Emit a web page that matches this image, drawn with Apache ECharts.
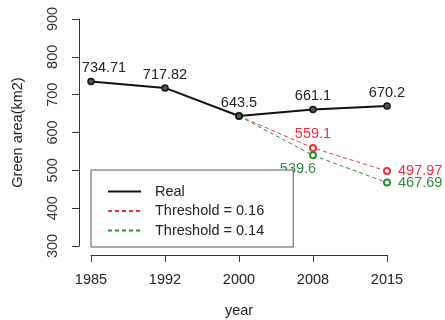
<!DOCTYPE html>
<html>
<head>
<meta charset="utf-8">
<script src="https://cdn.jsdelivr.net/npm/echarts@6/dist/echarts.min.js"></script>
<style>html,body{margin:0;padding:0;background:#fff}#c{width:445px;height:320px}</style>
</head>
<body>
<div id="c"></div>
<script>
var years = ['1985', '1992', '2000', '2008', '2015'];
var realValues = [734.71, 717.82, 643.5, 661.1, 670.2];
var t016Values = [null, null, 643.5, 559.1, 497.97];
var t014Values = [null, null, 643.5, 539.6, 467.69];
var seriesNames = ['Real', 'Threshold = 0.16', 'Threshold = 0.14'];
var yTicks = [300, 400, 500, 600, 700, 800, 900];

var FONT = 'Liberation Sans, Arial, sans-serif';
var FS = 14.5;
var RED = '#e8323c', GREEN = '#2f8a3a', DARK = '#222';

function realData() {
  return realValues.map(function (v, i) {
    var lbl = {show: true, position: 'top', distance: 2, color: DARK, fontSize: FS, fontFamily: FONT};
    if (i === 0) lbl.offset = [13, 0];
    return {value: v, label: lbl};
  });
}
function thrData(vals, color, nearPos, nearOffset) {
  return vals.map(function (v, i) {
    if (v === null) return null;
    var lbl = {show: false};
    if (i === 3) lbl = {show: true, position: nearPos, distance: 2, offset: nearOffset, color: color, fontSize: FS, fontFamily: FONT};
    if (i === 4) lbl = {show: true, position: 'right', distance: 7, color: color, fontSize: FS, fontFamily: FONT};
    return {value: v, label: lbl};
  });
}

var chart = echarts.init(document.getElementById('c'), null, {renderer: 'canvas'});
chart.setOption({
  animation: false,
  backgroundColor: '#fff',
  textStyle: {fontFamily: FONT},
  grid: {left: 91, right: 58, top: 19, bottom: 74, containLabel: false, outerBoundsMode: 'none'},
  legend: {
    orient: 'vertical', left: 91, top: 170,
    data: seriesNames,
    borderColor: '#555', borderWidth: 1, borderRadius: 0,
    padding: [14, 29, 9, 16],
    itemWidth: 33, itemHeight: 14, itemGap: 4.5,
    itemStyle: {opacity: 0},
    textStyle: {fontSize: FS, color: DARK, fontFamily: FONT, padding: [0, 0, 0, 9]},
    backgroundColor: '#fff'
  },
  xAxis: {
    type: 'category', data: years, boundaryGap: false, offset: 9,
    axisLine: {onZero: false, lineStyle: {color: '#333', width: 1}},
    axisTick: {length: 7, alignWithLabel: true, lineStyle: {color: '#333'}},
    axisLabel: {margin: 17, fontSize: FS, color: DARK, fontFamily: FONT},
    name: 'year', nameLocation: 'middle', nameGap: 48,
    nameTextStyle: {fontSize: FS, color: DARK, fontFamily: FONT},
    splitLine: {show: false}
  },
  yAxis: {
    type: 'value', min: yTicks[0], max: yTicks[yTicks.length - 1], interval: 100, offset: 12,
    axisLine: {show: true, lineStyle: {color: '#333', width: 1}},
    axisTick: {show: true, length: 7, lineStyle: {color: '#333'}},
    axisLabel: {rotate: 90, margin: 19, fontSize: FS, color: '#333', fontFamily: FONT},
    name: 'Green area(km2)', nameLocation: 'middle', nameGap: 54,
    nameTextStyle: {fontSize: FS, color: DARK, fontFamily: FONT},
    splitLine: {show: false}
  },
  series: [
    {
      name: seriesNames[1], type: 'line', data: thrData(t016Values, RED, 'top', [0, 0]),
      connectNulls: false, symbol: 'emptyCircle', symbolSize: 6, z: 2,
      lineStyle: {color: RED, width: 1, type: [4, 3]},
      itemStyle: {color: RED, borderWidth: 1}
    },
    {
      name: seriesNames[2], type: 'line', data: thrData(t014Values, GREEN, 'bottom', [-15, 0]),
      connectNulls: false, symbol: 'emptyCircle', symbolSize: 6, z: 2,
      lineStyle: {color: GREEN, width: 1, type: [4, 3]},
      itemStyle: {color: GREEN, borderWidth: 1}
    },
    {
      name: seriesNames[0], type: 'line', data: realData(),
      symbol: 'circle', symbolSize: 6, z: 3,
      lineStyle: {color: '#111', width: 2},
      itemStyle: {color: '#555', borderColor: '#111', borderWidth: 1.5}
    }
  ]
});
</script>
</body>
</html>
